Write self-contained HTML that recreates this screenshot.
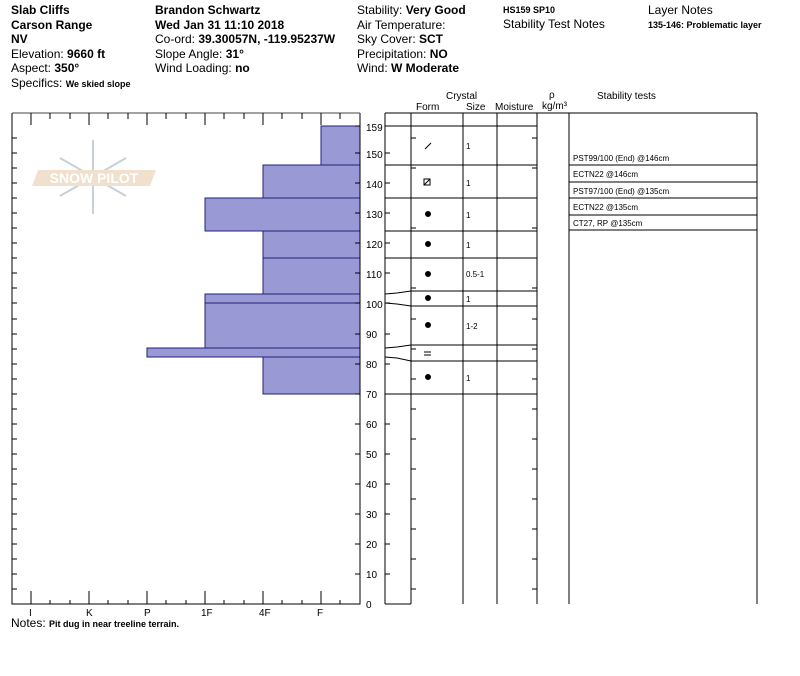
<!DOCTYPE html>
<html><head><meta charset="utf-8"><style>
body{margin:0;background:#fff;width:800px;height:676px;overflow:hidden;font-family:"Liberation Sans",sans-serif}
svg{position:absolute;left:0;top:0}
text{font-family:"Liberation Sans",sans-serif}
</style></head><body>
<svg width="800" height="676" viewBox="0 0 800 676">
<g font-size="12" fill="#000">
<text x="11" y="14" font-weight="bold">Slab Cliffs</text>
<text x="11" y="29" font-weight="bold">Carson Range</text>
<text x="11" y="43" font-weight="bold">NV</text>
<text x="11" y="58">Elevation: <tspan font-weight="bold">9660 ft</tspan></text>
<text x="11" y="72">Aspect: <tspan font-weight="bold">350°</tspan></text>
<text x="11" y="87">Specifics: <tspan font-weight="bold" font-size="9">We skied slope</tspan></text>
<text x="155" y="14" font-weight="bold">Brandon Schwartz</text>
<text x="155" y="29" font-weight="bold">Wed Jan 31 11:10 2018</text>
<text x="155" y="43">Co-ord: <tspan font-weight="bold">39.30057N, -119.95237W</tspan></text>
<text x="155" y="58">Slope Angle: <tspan font-weight="bold">31°</tspan></text>
<text x="155" y="72">Wind Loading: <tspan font-weight="bold">no</tspan></text>
<text x="357" y="14">Stability: <tspan font-weight="bold">Very Good</tspan></text>
<text x="357" y="29">Air Temperature:</text>
<text x="357" y="43">Sky Cover: <tspan font-weight="bold">SCT</tspan></text>
<text x="357" y="58">Precipitation: <tspan font-weight="bold">NO</tspan></text>
<text x="357" y="72">Wind:  <tspan font-weight="bold">W Moderate</tspan></text>
<text x="503" y="13" font-weight="bold" font-size="9">HS159 SP10</text>
<text x="503" y="28">Stability Test Notes</text>
<text x="648" y="14">Layer Notes</text>
<text x="648" y="28" font-weight="bold" font-size="9">135-146: Problematic layer</text>
</g>
<g font-size="10" fill="#000">
<text x="446" y="99">Crystal</text>
<text x="416" y="110">Form</text>
<text x="466" y="110">Size</text>
<text x="495" y="110">Moisture</text>
<text x="549" y="98">ρ</text>
<text x="542" y="109">kg/m³</text>
<text x="597" y="99">Stability tests</text>
</g>
<!-- watermark -->
<g opacity="0.55">
<g stroke="#9aabbb" stroke-width="2" fill="none">
<line x1="93" y1="140" x2="93" y2="214"/><line x1="60" y1="158" x2="126" y2="196"/><line x1="60" y1="196" x2="126" y2="158"/>
</g>
<polygon points="38,170 156,170 150,186 32,186" fill="#e8c8a8"/>
<text x="94" y="183" font-size="14" text-anchor="middle" fill="#fff" font-weight="bold">SNOW PILOT</text>
</g>
<!-- bars -->
<g fill="#9999d6" stroke="#22227a" stroke-width="1">
<rect x="321" y="126" width="39" height="39"/>
<rect x="263" y="165" width="97" height="33"/>
<rect x="205" y="198" width="155" height="33"/>
<rect x="263" y="231" width="97" height="27"/>
<rect x="263" y="258" width="97" height="36"/>
<rect x="205" y="294" width="155" height="9"/>
<rect x="205" y="303" width="155" height="45"/>
<rect x="147" y="348" width="213" height="9"/>
<rect x="263" y="357" width="97" height="37"/>
</g>
<g stroke="#000" stroke-width="1" fill="none">
<polyline points="12,113 12,604 360,604 360,113"/>
<line x1="12" y1="113" x2="360" y2="113" stroke="#444"/>
<line x1="385" y1="113" x2="385" y2="604"/>
<line x1="411" y1="113" x2="411" y2="604"/>
<line x1="463" y1="113" x2="463" y2="604"/>
<line x1="497" y1="113" x2="497" y2="604"/>
<line x1="537" y1="113" x2="537" y2="604"/>
<line x1="569" y1="113" x2="569" y2="604"/>
<line x1="385" y1="113" x2="757" y2="113"/>
<line x1="757" y1="113" x2="757" y2="604"/>
<line x1="385" y1="604" x2="411" y2="604"/>
<line x1="411" y1="126" x2="537" y2="126"/>
<line x1="411" y1="165" x2="537" y2="165"/>
<line x1="411" y1="198" x2="537" y2="198"/>
<line x1="411" y1="231" x2="537" y2="231"/>
<line x1="411" y1="258" x2="537" y2="258"/>
<line x1="411" y1="291" x2="537" y2="291"/>
<line x1="411" y1="306" x2="537" y2="306"/>
<line x1="411" y1="345" x2="537" y2="345"/>
<line x1="411" y1="361" x2="537" y2="361"/>
<line x1="385" y1="394" x2="537" y2="394"/>
<line x1="385" y1="126" x2="411" y2="126"/>
<line x1="385" y1="165" x2="411" y2="165"/>
<line x1="385" y1="198" x2="411" y2="198"/>
<line x1="385" y1="231" x2="411" y2="231"/>
<line x1="385" y1="258" x2="411" y2="258"/>
<polyline points="385,294 397,293 411,291"/>
<polyline points="385,303 397,304 411,306"/>
<polyline points="385,348 397,347 411,345"/>
<polyline points="385,357 397,358 411,361"/>
<line x1="569" y1="165" x2="757" y2="165"/>
<line x1="569" y1="182" x2="757" y2="182"/>
<line x1="569" y1="198" x2="757" y2="198"/>
<line x1="569" y1="215" x2="757" y2="215"/>
<line x1="569" y1="230" x2="757" y2="230"/>
<!-- left ticks every 5cm -->
<path d="M12 589h5M12 574h5M12 559h5M12 544h5M12 529h5M12 514h5M12 499h5M12 484h5M12 469h5M12 454h5M12 439h5M12 424h5M12 409h5M12 394h5M12 379h5M12 364h5M12 349h5M12 334h5M12 319h5M12 303h5M12 288h5M12 273h5M12 258h5M12 243h5M12 228h5M12 213h5M12 198h5M12 183h5M12 168h5M12 153h5M12 138h5"/>
<path d="M360 574h-5M360 544h-5M360 514h-5M360 484h-5M360 454h-5M360 424h-5M360 394h-5M360 364h-5M360 334h-5M360 303h-5M360 273h-5M360 243h-5M360 213h-5M360 183h-5M360 153h-5M360 126h-5"/>
<path d="M385 574h5M385 544h5M385 514h5M385 484h5M385 454h5M385 424h5M385 394h5M385 364h5M385 334h5M385 303h5M385 273h5M385 243h5M385 213h5M385 183h5M385 153h5"/>
<path d="M411 589h5M411 559h5M411 529h5M411 499h5M411 469h5M411 439h5M411 409h5M411 379h5M411 349h5M411 319h5M411 288h5M411 258h5M411 228h5M411 198h5M411 168h5M411 138h5"/>
<path d="M537 589h-5M537 559h-5M537 529h-5M537 499h-5M537 469h-5M537 439h-5M537 409h-5M537 379h-5M537 349h-5M537 319h-5M537 288h-5M537 258h-5M537 228h-5M537 198h-5M537 168h-5M537 138h-5"/>
<!-- top/bottom hardness ticks -->
<path d="M31 113v12M89 113v12M147 113v12M205 113v12M263 113v12M321 113v12M50 113v6M70 113v6M108 113v6M128 113v6M166 113v6M186 113v6M224 113v6M244 113v6M282 113v6M302 113v6M340 113v6"/>
<path d="M31 604v-13M89 604v-13M147 604v-13M205 604v-13M263 604v-13M321 604v-13M50 604v-4M70 604v-4M108 604v-4M128 604v-4M166 604v-4M186 604v-4M224 604v-4M244 604v-4M282 604v-4M302 604v-4M340 604v-4"/>
</g>
<g font-size="10" fill="#000">
<text x="366" y="131">159</text><text x="366" y="158">150</text><text x="366" y="188">140</text><text x="366" y="218">130</text><text x="366" y="248">120</text><text x="366" y="278">110</text><text x="366" y="308">100</text><text x="366" y="338">90</text><text x="366" y="368">80</text><text x="366" y="398">70</text><text x="366" y="428">60</text><text x="366" y="458">50</text><text x="366" y="488">40</text><text x="366" y="518">30</text><text x="366" y="548">20</text><text x="366" y="578">10</text><text x="366" y="608">0</text>
<text x="29" y="616">I</text><text x="86" y="616">K</text><text x="144" y="616">P</text><text x="201" y="616">1F</text><text x="259" y="616">4F</text><text x="317" y="616">F</text>
</g>
<text x="11" y="627" font-size="12">Notes: <tspan font-weight="bold" font-size="9">Pit dug in near treeline terrain.</tspan></text>
<g font-size="8" fill="#000">
<text x="466" y="149">1</text><text x="466" y="186">1</text><text x="466" y="218">1</text><text x="466" y="248">1</text><text x="466" y="277">0.5-1</text><text x="466" y="302">1</text><text x="466" y="329">1-2</text><text x="466" y="381">1</text>
<text x="573" y="161">PST99/100 (End) @146cm</text>
<text x="573" y="177">ECTN22 @146cm</text>
<text x="573" y="194">PST97/100 (End) @135cm</text>
<text x="573" y="210">ECTN22 @135cm</text>
<text x="573" y="226">CT27, RP @135cm</text>
</g>
<g fill="#000" stroke="#000">
<line x1="425" y1="149" x2="431" y2="143"/>
<rect x="424" y="179" width="6" height="6" fill="none"/><line x1="424" y1="185" x2="430" y2="179"/>
<circle cx="428" cy="214" r="2.5"/><circle cx="428" cy="244" r="2.5"/><circle cx="428" cy="274" r="2.5"/><circle cx="428" cy="298" r="2.5"/><circle cx="428" cy="325" r="2.5"/><circle cx="428" cy="377" r="2.5"/>
<line x1="424" y1="352" x2="431" y2="352"/><line x1="424" y1="355" x2="431" y2="355"/>
</g>
</svg>
</body></html>
